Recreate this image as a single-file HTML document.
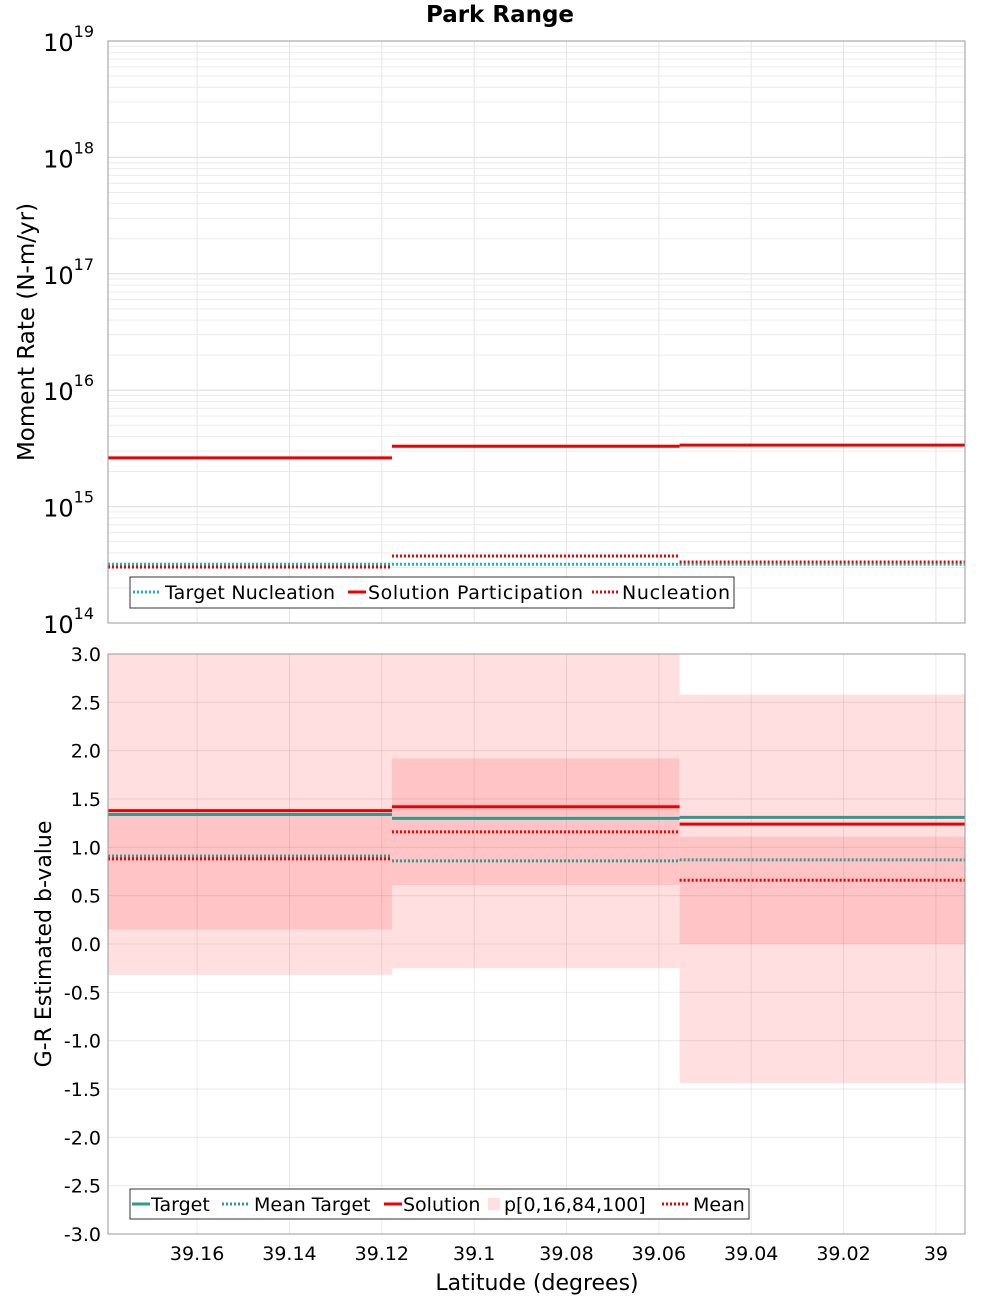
<!DOCTYPE html>
<html><head><meta charset="utf-8"><style>
body{margin:0;background:#fff;font-family:"DejaVu Sans","Liberation Sans",sans-serif}
</style></head><body>
<svg id="c" width="1000" height="1300" xmlns="http://www.w3.org/2000/svg"></svg>
<script>
const binEdges=[39.1793,39.1178,39.0555,38.9937];
const targetNucl=[3.2e14,3.2e14,3.2e14];
const solPart=[2.62e15,3.3e15,3.37e15];
const nucl=[3.03e14,3.76e14,3.34e14];
const target=[1.34,1.30,1.31];
const solution=[1.38,1.42,1.24];
const meanTarget=[0.91,0.86,0.87];
const meanSol=[0.88,1.16,0.66];
const p0=[-0.32,-0.25,-1.44];
const p16=[0.15,0.61,0.0];
const p84=[1.36,1.92,1.11];
const p100=[3.0,3.0,2.58];
const xTicks=[39.16,39.14,39.12,39.1,39.08,39.06,39.04,39.02,39];
const xTickLabels=["39.16","39.14","39.12","39.1","39.08","39.06","39.04","39.02","39"];
const yTicks2=[3,2.5,2,1.5,1,0.5,0,-0.5,-1,-1.5,-2,-2.5,-3];
const yTickLabels2=["3.0","2.5","2.0","1.5","1.0","0.5","0.0","-0.5","-1.0","-1.5","-2.0","-2.5","-3.0"];
const decades=[14,15,16,17,18,19];

const S="http://www.w3.org/2000/svg",svg=document.getElementById('c');
const L=108,R=965,T1=41,B1=623,T2=654,B2=1234;
const X=v=>L+(binEdges[0]-v)/(binEdges[0]-binEdges[3])*(R-L);
const Y1=v=>B1-(Math.log10(v)-14)/5*(B1-T1);
const Y2=v=>B2-(v+3)/6*(B2-T2);
function el(t,a,name,txt){const e=document.createElementNS(S,t);for(const k in a)e.setAttribute(k,a[k]);


if(txt!=null)e.textContent=txt;svg.appendChild(e);return e;}
el('text',{x:500,y:22,'text-anchor':'middle','font-size':23,'font-weight':'bold'},'chart-title','Park Range');
// panel 1
el('rect',{x:L,y:T1,width:R-L,height:B1-T1,fill:'#fff'},'top-plot-area');
for(const d of decades.slice(0,5))for(let m=2;m<10;m++){const y=Y1(m*Math.pow(10,d));el('line',{x1:L,x2:R,y1:y,y2:y,stroke:'#ececec'},'minor-grid');}
for(const d of decades){const y=Y1(Math.pow(10,d));el('line',{x1:L,x2:R,y1:y,y2:y,stroke:'#ddd'},'major-grid');
const t=el('text',{x:94,y:y+10,'text-anchor':'end','font-size':24},'y-tick-label-top','10');
const s=document.createElementNS(S,'tspan');s.setAttribute('dy',-14);s.setAttribute('font-size',16);s.textContent=d;t.appendChild(s);}
for(const v of xTicks){el('line',{x1:X(v),x2:X(v),y1:T1,y2:B1,stroke:'#e6e6e6'},'x-grid-top');}
function steps(arr,Y,color,dash,w,name){for(let i=0;i<3;i++){const a={x1:X(binEdges[i]),x2:X(binEdges[i+1]),y1:Y(arr[i]),y2:Y(arr[i]),stroke:color,'stroke-width':w};if(dash)a['stroke-dasharray']=dash;el('line',a,name);}}
steps(targetNucl,Y1,'#1fb5b5','2,2',3,'target-nucleation-line');
steps(solPart,Y1,'#e00','',3,'solution-participation-line');
steps(nucl,Y1,'#e00','2,2',3,'nucleation-line');
el('rect',{x:L,y:T1,width:R-L,height:B1-T1,fill:'none',stroke:'#999'},'top-plot-frame');
el('rect',{x:130,y:577,width:604,height:31,fill:'#fff',stroke:'#333'},'top-legend');
[[133,'#1fb5b5','2,2','Target Nucleation',165,170],[348,'#e00','','Solution Participation',368,215],[592,'#e00','2,2','Nucleation',622,108]].forEach(([x,c,d,t,tx,tl])=>{
const a={x1:x,x2:x+27,y1:592,y2:592,stroke:c,'stroke-width':3};if(d)a['stroke-dasharray']=d;if(!d){a.x1=x;a.x2=x+18;}el('line',a,'legend-swatch');
el('text',{x:tx,y:599,'font-size':19,textLength:tl},'legend-label',t);});
el('text',{x:0,y:0,transform:'translate(18,332) rotate(-90)','text-anchor':'middle','font-size':23,'dominant-baseline':'hanging'},'y-axis-title-top','Moment Rate (N-m/yr)');
// panel 2
el('rect',{x:L,y:T2,width:R-L,height:B2-T2,fill:'#fff'},'bottom-plot-area');
for(let i=0;i<3;i++){const x1=X(binEdges[i]),x2=X(binEdges[i+1]);
el('rect',{x:x1,y:Y2(p100[i]),width:x2-x1,height:Y2(p0[i])-Y2(p100[i]),fill:'#ffdfe0'},'band-outer');
el('rect',{x:x1,y:Y2(p84[i]),width:x2-x1,height:Y2(p16[i])-Y2(p84[i]),fill:'#ffc4c5'},'band-inner');}
yTicks2.forEach((v,i)=>{const y=Y2(v);el('line',{x1:L,x2:R,y1:y,y2:y,stroke:'rgba(0,0,0,0.08)'},'y-grid-bottom');
el('text',{x:101,y:y+7,'text-anchor':'end','font-size':19},'y-tick-label-bottom',yTickLabels2[i]);});
xTicks.forEach((v,i)=>{el('line',{x1:X(v),x2:X(v),y1:T2,y2:B2,stroke:'rgba(0,0,0,0.08)'},'x-grid-bottom');
el('text',{x:X(v),y:1260,'text-anchor':'middle','font-size':19},'x-tick-label',xTickLabels[i]);});
steps(target,Y2,'#2e9a94','',3,'target-line');
steps(solution,Y2,'#e00','',3,'solution-line');
steps(meanTarget,Y2,'#2e9a94','2,2',3,'mean-target-line');
steps(meanSol,Y2,'#e00','2,2',3,'mean-line');
el('rect',{x:L,y:T2,width:R-L,height:B2-T2,fill:'none',stroke:'#999'},'bottom-plot-frame');
el('rect',{x:130,y:1189,width:619,height:30,fill:'#fff',stroke:'#333'},'bottom-legend');
[[132,'#2e9a94','','Target',151],[222,'#2e9a94','2,2','Mean Target',254],[384,'#e00','','Solution',403]].forEach(([x,c,d,t,tx])=>{
const a={x1:x,x2:d?x+28:x+18,y1:1204,y2:1204,stroke:c,'stroke-width':3};if(d)a['stroke-dasharray']=d;el('line',a,'legend-swatch');
el('text',{x:tx,y:1211,'font-size':19},'legend-label',t);});
el('rect',{x:488,y:1198,width:12,height:12,fill:'#ffdfe0'},'legend-swatch-band');
el('text',{x:504,y:1211,'font-size':19},'legend-label','p[0,16,84,100]');
el('line',{x1:662,x2:690,y1:1204,y2:1204,stroke:'#e00','stroke-width':3,'stroke-dasharray':'2,2'},'legend-swatch');
el('text',{x:693,y:1211,'font-size':19},'legend-label','Mean');
el('text',{x:0,y:0,transform:'translate(51,944) rotate(-90)','text-anchor':'middle','font-size':22},'y-axis-title-bottom','G-R Estimated b-value');
el('text',{x:537,y:1290,'text-anchor':'middle','font-size':22},'x-axis-title','Latitude (degrees)');
</script></body></html>
